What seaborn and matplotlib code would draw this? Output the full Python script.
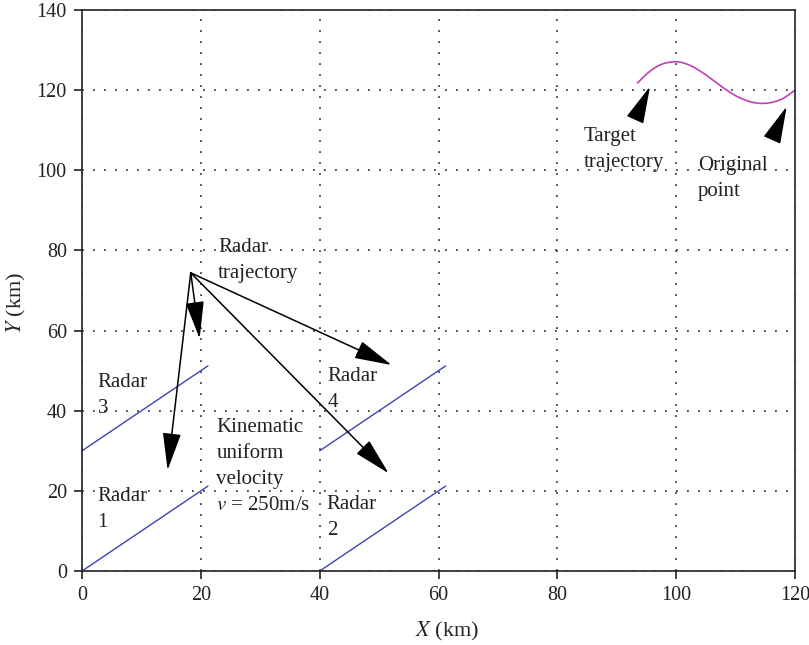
import numpy as np
import pandas as pd
import seaborn as sns
import matplotlib.pyplot as plt

# radar trajectories (start -> end, km)
radar_names = ["Radar 1", "Radar 2", "Radar 3", "Radar 4"]
radar_x0 = [0, 40, 0, 40]
radar_y0 = [0, 0, 30, 30]
radar_x1 = [21.2, 61.2, 21.2, 61.2]
radar_y1 = [21.2, 21.2, 51.2, 51.2]

# target trajectory
target_x = [93.5, 95, 96, 97, 98, 99, 100, 101, 102, 103, 104, 105, 106, 107, 108,
            109, 110, 111, 112, 113, 114, 115, 116, 117, 118, 119, 120]
target_y = [121.8, 124.0, 125.2, 126.1, 126.7, 127.0, 127.1, 126.9, 126.4, 125.7,
            124.8, 123.8, 122.7, 121.6, 120.5, 119.5, 118.6, 117.9, 117.3, 116.9,
            116.7, 116.7, 116.9, 117.3, 117.9, 118.9, 120.0]

# radar trajectory arrows: common tail, four heads
arrow_tail = (18.3, 74.4)
arrow_heads = [(14.4, 25.2), (19.8, 58.0), (52.1, 51.4), (51.6, 24.4)]

sns.set_style("ticks")
plt.rcParams['font.family'] = ['Liberation Serif', 'DejaVu Serif']
plt.rcParams['mathtext.fontset'] = 'stix'

rows = []
for n, x0, y0, x1, y1 in zip(radar_names, radar_x0, radar_y0, radar_x1, radar_y1):
    rows.append((n, x0, y0))
    rows.append((n, x1, y1))
radar_df = pd.DataFrame(rows, columns=["radar", "x", "y"])
target_df = pd.DataFrame({"x": target_x, "y": target_y})

fig = plt.figure(figsize=(8.09, 6.45), dpi=100)
ax = fig.add_axes([0.1014, 0.1147, 0.8813, 0.8698])

sns.lineplot(data=radar_df, x="x", y="y", units="radar", estimator=None, sort=False,
             color="#3b45b5", linewidth=1.0, ax=ax)
sns.lineplot(data=target_df, x="x", y="y", sort=False, color="#c53db5",
             linewidth=1.2, ax=ax)

ax.set_xlim(0, 120)
ax.set_ylim(0, 140)
ax.set_xticks(np.arange(0, 121, 20))
ax.set_yticks(np.arange(0, 141, 20))
ax.grid(True, linestyle=(0, (1.2, 6)), color="#222222", linewidth=1.1)
for s in ax.spines.values():
    s.set_visible(True)
    s.set_linewidth(1.2)
    s.set_color("#222222")
ax.tick_params(direction="out", length=6, width=1.2, labelsize=14.5, colors="#222222",
               pad=5)
ax.set_xlabel("$X$ (km)", fontsize=16)
ax.set_ylabel("$Y$ (km)", fontsize=16)
ax.xaxis.set_label_coords(0.512, -0.087)
ax.yaxis.set_label_coords(-0.076, 0.478)

arrow_kw = dict(arrowstyle="-|>,head_length=1.3,head_width=0.32", color="black",
                lw=1.1, mutation_scale=18, shrinkA=0, shrinkB=0)
for hx, hy in arrow_heads:
    ax.annotate("", xy=(hx, hy), xytext=arrow_tail, arrowprops=arrow_kw)
ax.annotate("", xy=(95.6, 120.9), xytext=(93.2, 113.0), arrowprops=arrow_kw)
ax.annotate("", xy=(118.6, 115.9), xytext=(116.2, 107.8), arrowprops=arrow_kw)

txt = dict(fontsize=15, va="top", ha="left", color="#222222", linespacing=1.5)
ax.text(22.9, 83.2, "Radar\ntrajectory", **txt)
ax.text(2.6, 49.4, "Radar\n3", **txt)
ax.text(41.3, 50.8, "Radar\n4", **txt)
ax.text(2.5, 21.0, "Radar\n1", **txt)
ax.text(41.2, 19.0, "Radar\n2", **txt)
ax.text(22.6, 38.2, "Kinematic\nuniform\nvelocity\n$v$ = 250m/s", **txt)
ax.text(84.4, 110.7, "Target\ntrajectory", **txt)
ax.text(103.7, 103.5, "Original\npoint", **txt)

fig.savefig("out.png", dpi=100)
